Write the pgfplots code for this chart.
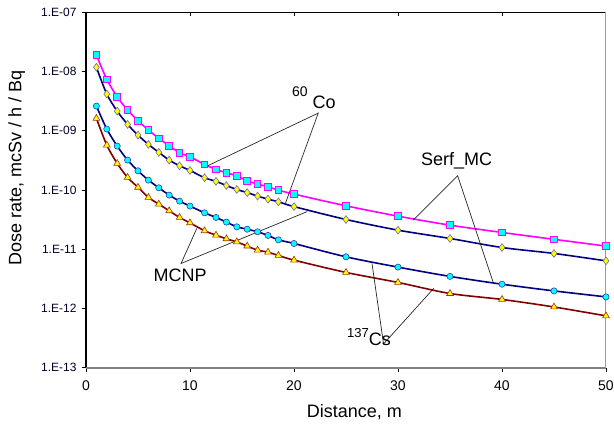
\documentclass[border=0pt]{standalone}
\usepackage{pgfplots}
\pgfplotsset{compat=1.18}
\usepackage{pgfplotstable}
\usepackage{fontspec}
\setmainfont{Liberation Sans}
\definecolor{magentaL}{HTML}{FF00FF}
\definecolor{cyanF}{HTML}{00FFFF}
\definecolor{navyL}{HTML}{000080}
\definecolor{yellowF}{HTML}{FFFF00}
\definecolor{maroonL}{HTML}{800000}
\definecolor{brownE}{HTML}{A03010}
\definecolor{diaE}{HTML}{6B6B9B}
\definecolor{circE}{HTML}{2E3FB0}
\definecolor{axgray}{HTML}{808080}

\pgfplotstableread{
x y
1 1.90e-8
2 7.38e-9
3 3.75e-9
4 2.24e-9
5 1.48e-9
6 1.03e-9
7 7.45e-10
8 5.58e-10
9 4.25e-10
10 3.64e-10
11.4 2.70e-10
12.5 2.23e-10
13.5 1.95e-10
14.5 1.74e-10
15.5 1.43e-10
16.5 1.26e-10
17.5 1.13e-10
18.5 9.95e-11
20 8.53e-11
25 5.41e-11
30 3.62e-11
35 2.55e-11
40 1.92e-11
45 1.47e-11
50 1.13e-11
}\coserf

\pgfplotstableread{
x y
1 1.18e-8
2 4.17e-9
3 2.15e-9
4 1.28e-9
5 8.45e-10
6 5.89e-10
7 4.32e-10
8 3.20e-10
9 2.56e-10
10 2.14e-10
11.4 1.61e-10
12.5 1.40e-10
13.5 1.19e-10
14.5 1.02e-10
15.5 9.04e-11
16.5 7.89e-11
17.5 7.02e-11
18.5 6.32e-11
20 5.25e-11
25 3.18e-11
30 2.10e-11
35 1.52e-11
40 1.07e-11
45 8.49e-12
50 6.37e-12
}\comcnp

\pgfplotstableread{
x y
1 2.61e-9
2 1.07e-9
3 5.52e-10
4 3.20e-10
5 2.11e-10
6 1.47e-10
7 1.09e-10
8 8.20e-11
9 6.49e-11
10 5.35e-11
11.4 4.12e-11
12.5 3.44e-11
13.5 2.87e-11
14.5 2.39e-11
15.5 2.18e-11
16.5 1.97e-11
17.5 1.71e-11
18.5 1.44e-11
20 1.25e-11
25 7.45e-12
30 4.99e-12
35 3.48e-12
40 2.57e-12
45 1.98e-12
50 1.57e-12
}\cscirc

\pgfplotstableread{
x y
1 1.62e-9
2 5.73e-10
3 2.81e-10
4 1.63e-10
5 1.11e-10
6 7.50e-11
7 5.78e-11
8 4.46e-11
9 3.44e-11
10 2.79e-11
11.4 2.05e-11
12.5 1.73e-11
13.5 1.50e-11
14.5 1.33e-11
15.5 1.13e-11
16.5 9.66e-12
17.5 8.93e-12
18.5 7.85e-12
20 6.55e-12
25 4.06e-12
30 2.75e-12
35 1.79e-12
40 1.42e-12
45 1.06e-12
50 7.50e-13
}\cstri

\begin{document}
\begin{tikzpicture}
\useasboundingbox (0,0) rectangle (614pt,426pt);
\begin{axis}[
  at={(86pt,58.3pt)}, anchor=south west,
  width=520pt, height=355.4pt, scale only axis,
  xmin=0, xmax=50, ymin=1e-13, ymax=1e-7, ymode=log,
  axis line style={draw=none},
  clip=false,
  xtick={0,10,20,30,40,50}, xticklabels={0,10,20,30,40,50},
  ytick={1e-13,1e-12,1e-11,1e-10,1e-9,1e-8,1e-7},
  yticklabels={1.E-13,1.E-12,1.E-11,1.E-10,1.E-09,1.E-08,1.E-07},
  yminorticks=false,
  xtick pos=bottom, ytick pos=left,
  tick align=outside, major tick length=4pt,
  tick style={black, line width=0.8pt},
  xticklabel style={font=\fontsize{14}{14}\selectfont, text=black, yshift=-5pt},
  yticklabel style={font=\fontsize{12}{12}\selectfont, text=black!85!blue, xshift=-2pt},
  xlabel={Distance, m},
  ylabel={Dose rate, mcSv / h / Bq},
  xlabel style={at={(axis description cs:0.516,-0.125)}, anchor=center, font=\fontsize{18}{20}\selectfont},
  ylabel style={at={(axis description cs:-0.133,0.563)}, anchor=center, font=\fontsize{18}{20}\selectfont},
]
\draw[black, line width=1.1pt] (rel axis cs:0,0) -- (rel axis cs:0,1) -- (rel axis cs:1,1);
\draw[axgray, line width=1.8pt] (rel axis cs:0,0) -- (rel axis cs:1,0);
\draw[axgray!80, line width=1pt] (rel axis cs:1,0) -- (rel axis cs:1,1);
\pgfplotsinvokeforeach{10,20,30,40}{\draw[black, line width=0.8pt] (axis cs:#1,1e-7) -- ++(0pt,-4pt);}

\addplot[maroonL, line width=1.6pt, smooth, mark=triangle*, mark size=3.9pt,
  mark options={fill=yellowF, draw=brownE, line width=0.6pt}] table {\cstri};
\addplot[navyL, line width=1.6pt, smooth, mark=*, mark size=3.1pt,
  mark options={fill=cyanF, draw=circE, line width=0.6pt}] table {\cscirc};
\addplot[navyL, line width=1.6pt, smooth, mark=diamond*, mark size=3.9pt,
  mark options={fill=yellowF, draw=diaE, line width=0.6pt}] table {\comcnp};
\addplot[magentaL, line width=1.6pt, smooth, mark=square*, mark size=3.3pt,
  mark options={fill=cyanF, draw=magentaL, line width=0.8pt}] table {\coserf};

% callouts
\draw[black!85, line width=0.7pt] (axis cs:11.65,2.54e-10) -- (axis cs:22.33,1.99e-9) -- (axis cs:19.15,5.78e-11);
\draw[black!85, line width=0.7pt] (axis cs:31.47,3.10e-11) -- (axis cs:35.74,1.74e-10) -- (axis cs:39.14,2.81e-12);
\draw[black!85, line width=0.7pt] (axis cs:10.65,2.24e-11) -- (axis cs:9.14,5.75e-12) -- (axis cs:21.27,4.32e-11);
\draw[black!85, line width=0.7pt] (axis cs:27.5,5.75e-12) -- (axis cs:28.61,2.52e-13) -- (axis cs:33.43,2.18e-12);

\node[anchor=base west, inner sep=0pt, font=\fontsize{18}{20}\selectfont] at (axis cs:19.8,2.39e-9)
  {{\fontsize{14}{14}\selectfont\raisebox{11.5pt}{60}}\hspace{5pt}Co};
\node[anchor=base west, inner sep=0pt, font=\fontsize{18}{20}\selectfont] at (axis cs:32.21,2.56e-10) {Serf\_MC};
\node[anchor=base west, inner sep=0pt, font=\fontsize{18}{20}\selectfont] at (axis cs:6.48,2.81e-12) {MCNP};
\node[anchor=base west, inner sep=0pt, font=\fontsize{18}{20}\selectfont] at (axis cs:25.09,2.40e-13)
  {{\fontsize{13}{13}\selectfont\raisebox{8pt}{137}}Cs};
\end{axis}
\end{tikzpicture}
\end{document}
